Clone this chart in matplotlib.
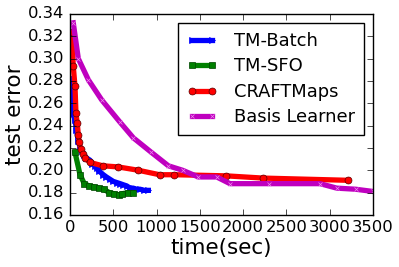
import matplotlib
matplotlib.use("Agg")
import matplotlib.pyplot as plt

plt.style.use("classic")

# TM-Batch
batch_t = [12, 25, 40, 58, 75, 96, 115, 135, 160, 190, 231, 260, 290, 308, 340,
           385, 420, 460, 500, 540, 580, 616, 655, 693, 730, 770, 810, 860, 905]
batch_e = [0.282, 0.262, 0.250, 0.245, 0.236, 0.226, 0.221, 0.217, 0.214, 0.211,
           0.209, 0.206, 0.204, 0.202, 0.199, 0.196, 0.194, 0.192, 0.190, 0.189,
           0.188, 0.187, 0.186, 0.184, 0.184, 0.183, 0.183, 0.182, 0.182]

# TM-SFO
sfo_t = [58, 116, 165, 221, 281, 337, 389, 454, 510, 564, 604, 674, 728]
sfo_e = [0.216, 0.196, 0.188, 0.186, 0.185, 0.184, 0.183, 0.180, 0.179, 0.178,
         0.179, 0.180, 0.180]

# CRAFTMaps
craft_t = [20, 38, 58, 69, 84, 96, 107, 123, 146, 173, 231, 377, 555, 789, 1034,
           1205, 1802, 2226, 3215]
craft_e = [0.324, 0.293, 0.275, 0.251, 0.242, 0.232, 0.225, 0.219, 0.215, 0.211,
           0.207, 0.204, 0.203, 0.200, 0.196, 0.196, 0.195, 0.193, 0.191]

# Basis Learner
basis_t = [38, 96, 212, 366, 578, 732, 940, 1136, 1300, 1482, 1694, 1848, 2300,
           2888, 3080, 3300, 3500]
basis_e = [0.332, 0.300, 0.281, 0.263, 0.243, 0.229, 0.216, 0.204, 0.200, 0.194,
           0.194, 0.188, 0.188, 0.188, 0.184, 0.183, 0.181]

fig = plt.figure(figsize=(3.99, 2.67), dpi=100, facecolor="white")
ax = fig.add_axes([0.1754, 0.195, 0.7596, 0.753])

ax.plot(batch_t, batch_e, color="b", linewidth=3.8, marker=">", markersize=4,
        markeredgecolor="b", label="TM-Batch")
ax.plot(sfo_t, sfo_e, color="g", linewidth=3.8, marker="s", markersize=5,
        markeredgecolor="#004400", label="TM-SFO")
ax.plot(craft_t, craft_e, color="r", linewidth=3.8, marker="o", markersize=5,
        markeredgecolor="#550000", label="CRAFTMaps")
ax.plot(basis_t, basis_e, color="m", linewidth=3.8, marker="x", markersize=3,
        markeredgecolor="#ee88ee", label="Basis Learner")

ax.set_xlim(0, 3500)
ax.set_ylim(0.16, 0.34)
ax.set_xticks(range(0, 3501, 500))
ax.set_yticks([0.16 + 0.02 * i for i in range(10)])
ax.yaxis.set_major_formatter(matplotlib.ticker.FormatStrFormatter("%.2f"))
ax.tick_params(labelsize=11.8)
ax.set_xlabel("time(sec)", fontsize=15.5, labelpad=2)
ax.set_ylabel("test error", fontsize=15.5, labelpad=2)

ax.legend(loc="upper right", fontsize=12.9, numpoints=2, fancybox=False,
          handlelength=1.7, handletextpad=0.95, labelspacing=0.42,
          borderpad=0.5, borderaxespad=0.5)

fig.savefig("out.png", dpi=100, facecolor="white")
